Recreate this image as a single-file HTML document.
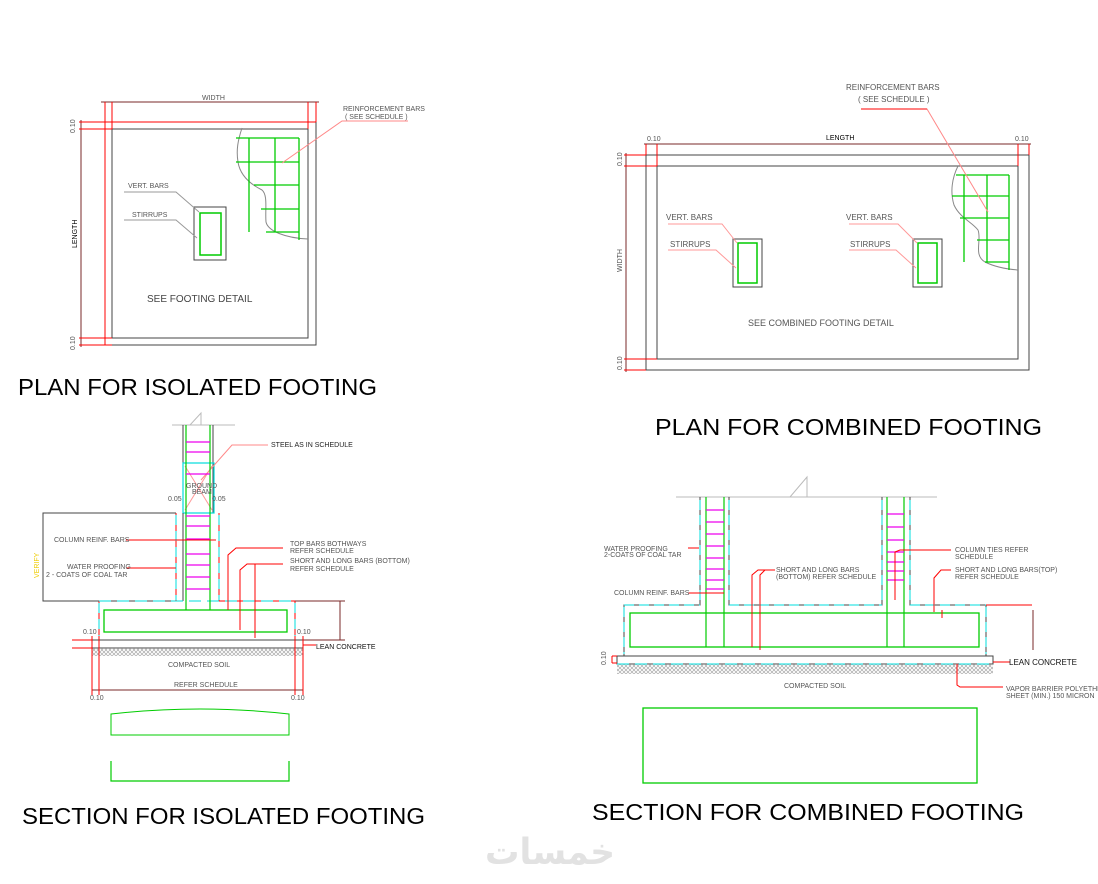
<!DOCTYPE html>
<html><head><meta charset="utf-8"><style>
html,body{margin:0;padding:0;background:#fff;}
svg{display:block;}
text{font-family:"Liberation Sans",sans-serif;}
.s{font-size:7px;fill:#555;}
.t{font-size:23px;fill:#000;}
</style></head><body>
<svg width="1098" height="884" viewBox="0 0 1098 884" xmlns="http://www.w3.org/2000/svg">
<defs>
<pattern id="h" width="4" height="4" patternUnits="userSpaceOnUse"><path d="M0 4L4 0M0 0L4 4" stroke="#aaa" stroke-width="0.7"/></pattern>
</defs>

<!-- PLAN ISOLATED -->
<g fill="none" stroke-width="1">
<rect x="105" y="122" width="211" height="223" stroke="#444"/>
<rect x="112" y="129" width="196" height="209" stroke="#444"/>
<line x1="101" y1="102" x2="319" y2="102" stroke="#7a2a2a"/>
<path d="M105 102V345M112 102V129M308 102V129M316 102V122" stroke="red"/>
<line x1="81" y1="120" x2="81" y2="347" stroke="#7a2a2a"/>
<path d="M79 122H316M79 129H112M79 338H112M79 345H112" stroke="red"/>
<path d="M242 128C238 140 236 150 238 162C240 175 250 184 262 190C268 195 265 210 266 222C268 231 285 238 308 239" stroke="#888"/>
<path d="M249 138V232M275 138V232M299 138V240M236 138H299M236 162H299M254 185H299M261 209H299M266 232H299" stroke="#0c0" stroke-width="1.3"/>
<rect x="194" y="207" width="32" height="53" stroke="#444"/>
<rect x="200" y="213" width="21" height="42" stroke="#0c0" stroke-width="1.5"/>
<path d="M124 192H176L199 212M124 220H176L197 238" stroke="#999"/>
<path d="M282 163L342 121H408" stroke="#f88"/>
</g>
<text x="202" y="100" class="s" font-size="6">WIDTH</text>
<text x="343" y="111" class="s">REINFORCEMENT BARS</text>
<text x="345" y="119" class="s">( SEE SCHEDULE )</text>
<text x="128" y="188" class="s">VERT. BARS</text>
<text x="132" y="217" class="s">STIRRUPS</text>
<text x="147" y="302" style="font-size:10px;fill:#444">SEE FOOTING DETAIL</text>
<text transform="translate(77,248) rotate(-90)" class="s" style="fill:#000">LENGTH</text>
<text transform="translate(75,133) rotate(-90)" class="s">0.10</text>
<text transform="translate(75,350) rotate(-90)" class="s">0.10</text>
<text x="18" y="395" class="t" textLength="359" lengthAdjust="spacingAndGlyphs">PLAN FOR ISOLATED FOOTING</text>

<!-- PLAN COMBINED -->
<g fill="none" stroke-width="1">
<rect x="646" y="155" width="383" height="215" stroke="#444"/>
<rect x="657" y="166" width="361" height="193" stroke="#444"/>
<line x1="644" y1="144" x2="1031" y2="144" stroke="#7a2a2a"/>
<path d="M646 144V155M657 144V166M1018 144V166M1029 144V155" stroke="red"/>
<line x1="626" y1="153" x2="626" y2="372" stroke="#7a2a2a"/>
<path d="M624 155H646M624 166H657M624 359H657M624 370H646" stroke="red"/>
<path d="M958 166C952 178 950 192 954 205C960 218 972 222 978 230C982 240 973 255 985 262C995 267 1005 269 1018 270" stroke="#888"/>
<path d="M964 175V262M987 175V262M1009 175V270M956 175H1009M952 196H1009M960 218H1009M977 240H1009M985 262H1009" stroke="#0c0" stroke-width="1.3"/>
<rect x="733" y="239" width="29" height="48" stroke="#444"/>
<rect x="738" y="243" width="19" height="40" stroke="#0c0" stroke-width="1.5"/>
<rect x="913" y="239" width="29" height="48" stroke="#444"/>
<rect x="918" y="243" width="19" height="40" stroke="#0c0" stroke-width="1.5"/>
<path d="M668 224H722L737 243M668 250H716L736 268M849 224H898L917 243M849 250H896L916 268" stroke="#f99"/>
<path d="M861 109H927L988 212" stroke="#f88"/>
<path d="M861 109H927" stroke="red"/>
</g>
<text x="826" y="140" class="s" style="fill:#000">LENGTH</text>
<text x="647" y="141" class="s">0.10</text>
<text x="1015" y="141" class="s">0.10</text>
<text x="846" y="90" class="s" style="font-size:8px">REINFORCEMENT BARS</text>
<text x="858" y="102" class="s" style="font-size:8px">( SEE SCHEDULE )</text>
<text x="666" y="220" class="s" style="font-size:8px">VERT. BARS</text>
<text x="670" y="247" class="s" style="font-size:8px">STIRRUPS</text>
<text x="846" y="220" class="s" style="font-size:8px">VERT. BARS</text>
<text x="850" y="247" class="s" style="font-size:8px">STIRRUPS</text>
<text x="748" y="326" class="s" style="font-size:9px">SEE COMBINED FOOTING DETAIL</text>
<text transform="translate(622,272) rotate(-90)" class="s">WIDTH</text>
<text transform="translate(622,166) rotate(-90)" class="s">0.10</text>
<text transform="translate(622,370) rotate(-90)" class="s">0.10</text>
<text x="655" y="435" class="t" textLength="387" lengthAdjust="spacingAndGlyphs">PLAN FOR COMBINED FOOTING</text>

<!-- SECTION ISOLATED -->
<g fill="none" stroke-width="1">
<path d="M172 425H235M190 425L201 413V425" stroke="#bbb"/>
<path d="M183 425V513M213 425V513" stroke="#444"/>
<rect x="183" y="463" width="31" height="50" stroke="#0dd" stroke-width="1.2"/>
<path d="M185 466L212 510M212 466L185 510" stroke="#f99"/>
<path d="M201 480L232 445H268" stroke="#f88"/>
<path d="M183 513V601M219 513V601" stroke="#444"/>
<path d="M176 513V601H99V640H295V601H219V513" stroke="red"/>
<path d="M176 513H43V601H176" stroke="#444"/>
<path d="M99 601H295" stroke="#0dd" stroke-dasharray="12 6"/>
<path d="M176 515V600M219 515V600M99 603V638M295 603V638" stroke="#0dd" stroke-dasharray="10 6"/>
<path d="M186 425V610M210 425V610" stroke="#0c0" stroke-width="1.2"/>
<rect x="104" y="610" width="183" height="22" stroke="#0c0" stroke-width="1.3"/>
<path d="M186 442H210M186 452H210M186 474H210M186 516H210M186 526H210M186 539H210M186 554H210M186 565H210M186 577H210M186 589H210" stroke="#e0e" stroke-width="1.2"/>
<path d="M126 540H216M126 568H176M228 610V555L236 548H283M240 630V570L247 564H283M255 564V638" stroke="red"/>
<path d="M340 601V640M295 601H345M295 640H345" stroke="#7a2a2a"/>
<rect x="92" y="640" width="211" height="8" stroke="#444"/>
<rect x="92" y="648" width="211" height="8" fill="url(#h)" stroke="none"/>
<path d="M303 645H316M72 640H92M72 648H92" stroke="red"/>
<path d="M92 690H303" stroke="#7a2a2a"/>
<path d="M92 636V695M99 636V695M295 636V695M303 636V695" stroke="red"/>
<path d="M111 714Q200 704 289 714V735H111Z" stroke="#0c0"/>
<path d="M111 761V781H289V761" stroke="#0c0" stroke-width="1.2"/>
</g>
<text x="271" y="447" class="s" style="fill:#222">STEEL AS IN SCHEDULE</text>
<text x="186" y="488" class="s" font-size="5">GROUND</text>
<text x="192" y="494" class="s" font-size="5">BEAM</text>
<text x="168" y="501" class="s">0.05</text>
<text x="212" y="501" class="s">0.05</text>
<text x="54" y="542" class="s">COLUMN REINF. BARS</text>
<text x="67" y="569" class="s">WATER PROOFING</text>
<text x="46" y="577" class="s">2 - COATS OF COAL TAR</text>
<text x="290" y="546" class="s">TOP BARS BOTHWAYS</text>
<text x="290" y="553" class="s">REFER SCHEDULE</text>
<text x="290" y="563" class="s">SHORT AND LONG BARS (BOTTOM)</text>
<text x="290" y="571" class="s">REFER SCHEDULE</text>
<text x="316" y="649" class="s" style="fill:#111">LEAN CONCRETE</text>
<text x="168" y="667" class="s">COMPACTED SOIL</text>
<text x="174" y="687" class="s">REFER SCHEDULE</text>
<text x="83" y="634" class="s">0.10</text>
<text x="297" y="634" class="s">0.10</text>
<text x="90" y="700" class="s">0.10</text>
<text x="291" y="700" class="s">0.10</text>
<text transform="translate(39,578) rotate(-90)" style="font-size:7px;fill:#ec0">VERIFY</text>
<text x="22" y="824" class="t" textLength="403" lengthAdjust="spacingAndGlyphs">SECTION FOR ISOLATED FOOTING</text>

<!-- SECTION COMBINED -->
<g fill="none" stroke-width="1">
<path d="M676 497H937M790 497L807 477V497" stroke="#bbb"/>
<path d="M700 497V605H624V656H986V605H910V497M729 497V605H882V497" stroke="#444"/>
<path d="M700 500V603M729 500V603M882 500V603M910 500V603M624 607V654M986 607V654M624 605H700M729 605H882M910 605H986" stroke="#0dd" stroke-dasharray="10 5"/>
<path d="M706 497V647M724 497V647M887 497V647M904 497V647" stroke="#0c0" stroke-width="1.2"/>
<rect x="630" y="613" width="349" height="34" stroke="#0c0" stroke-width="1.3"/>
<path d="M706 510H724M706 522H724M706 534H724M706 546H724M706 558H724M706 569H724M706 580H724M706 589H724M887 514H904M887 527H904M887 540H904M887 552H904M887 562H904M887 571H904M887 580H904" stroke="#e0e" stroke-width="1.2"/>
<rect x="617" y="656" width="376" height="8" stroke="#444"/>
<rect x="617" y="664" width="376" height="10" fill="url(#h)" stroke="none"/>
<path d="M617 664H993" stroke="#0dd" stroke-dasharray="12 6"/>
<path d="M688 548H699M688 593H724M752 647V575L758 570H775M760 650V575L765 570H775M895 600V552L900 550H951M934 612V578L941 570H951M942 610V618M986 605H1032M993 662H1010M957 664V685L960 687H1003" stroke="red"/>
<path d="M1033 610V650" stroke="#7a2a2a"/>
<path d="M612 656V663M612 656H617M612 663H617" stroke="red"/>
<rect x="643" y="708" width="334" height="75" stroke="#0c0" stroke-width="1.3"/>
</g>
<text x="604" y="551" class="s" font-size="6">WATER PROOFING</text>
<text x="604" y="557" class="s" font-size="6">2-COATS OF COAL TAR</text>
<text x="614" y="595" class="s" font-size="6">COLUMN REINF. BARS</text>
<text x="776" y="572" class="s" font-size="6">SHORT AND LONG BARS</text>
<text x="776" y="579" class="s" font-size="6">(BOTTOM) REFER SCHEDULE</text>
<text x="955" y="552" class="s" font-size="6">COLUMN TIES REFER</text>
<text x="955" y="559" class="s" font-size="6">SCHEDULE</text>
<text x="955" y="572" class="s" font-size="6">SHORT AND LONG BARS(TOP)</text>
<text x="955" y="579" class="s" font-size="6">REFER SCHEDULE</text>
<text x="1009" y="665" class="s" style="font-size:8px;fill:#111">LEAN CONCRETE</text>
<text x="784" y="688" class="s" font-size="6">COMPACTED SOIL</text>
<text x="1006" y="691" class="s" font-size="6">VAPOR BARRIER POLYETHELENE</text>
<text x="1006" y="698" class="s" font-size="6">SHEET (MIN.) 150 MICRON</text>
<text transform="translate(606,665) rotate(-90)" class="s">0.10</text>
<text x="592" y="820" class="t" textLength="432" lengthAdjust="spacingAndGlyphs">SECTION FOR COMBINED FOOTING</text>

<text x="550" y="864" text-anchor="middle" textLength="130" lengthAdjust="spacingAndGlyphs" style="font-family:'DejaVu Sans',sans-serif;font-size:36px;font-weight:bold;fill:#e2e2e2">خمسات</text>
</svg>
</body></html>
